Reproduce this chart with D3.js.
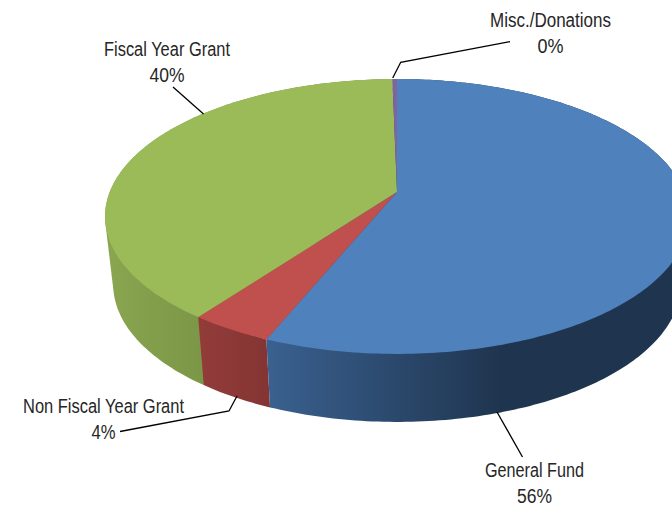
<!DOCTYPE html>
<html>
<head>
<meta charset="utf-8">
<script src="https://cdn.jsdelivr.net/npm/d3@7"></script>
<style>
	body { margin: 0; background: #fff; }
	svg { display: block; }
	text { font-family: "Liberation Sans", sans-serif; font-size: 20px; fill: #262626; }
</style>
</head>
<body>
<svg width="672" height="506"></svg>
<script>
// Chart values
var categories = ["General Fund", "Non Fiscal Year Grant", "Fiscal Year Grant", "Misc./Donations"]
var shares = [56.2, 3.9, 39.6, 0.3]
var percentLabels = ["56%", "4%", "40%", "0%"]

var topColors = ["#4f81bd", "#c0504d", "#9bbb59", "#8064a2"]
var wallLeft = ["#3a6190", "#933c3a", "#8aa650", "#64507f"]
var wallRight = ["#1f354f", "#843533", "#7c9747", "#64507f"]

var svg = d3.select("svg")

// Tilted disc: circle coordinates projected with a bit of perspective
var apex = {x: 397, y: 192}
var k = 0.178
var radiusX = 287.3
var radiusY = 133.1
var depth = 68
var shrink = 0.972

function project(angle) {
	var u = Math.sin(angle)
	var v = Math.cos(angle)
	var w = 1 + k * v
	return [apex.x + radiusX * u / w, apex.y - radiusY * v / w]
}

// Lower rim sits further from the viewer, so it is a little narrower
function projectBottom(angle) {
	var p = project(angle)
	return [apex.x + (p[0] - apex.x) * shrink, p[1] + depth]
}

function rim(slice, fn) {
	var n = Math.max(2, Math.ceil((slice.endAngle - slice.startAngle) * 60))
	return d3.range(n + 1).map(function(i) {
		return fn(slice.startAngle + (slice.endAngle - slice.startAngle) * i / n)
	})
}

var pie = d3.pie().sort(null)
var slices = pie(shares)
var line = d3.line()

// One horizontal gradient per side wall
var defs = svg.append("defs")
slices.forEach(function(s, i) {
	var pts = rim(s, project)
	var near = pts.filter(function(p) { return p[1] > apex.y })
	var left = d3.min(pts, function(p) { return p[0] })
	var right = i === 0 ? 500 : d3.max(near.length ? near : pts, function(p) { return p[0] })
	var grad = defs.append("linearGradient")
		.attr("id", "wall" + i)
		.attr("gradientUnits", "userSpaceOnUse")
		.attr("x1", left).attr("x2", right)
		.attr("y1", 0).attr("y2", 0)
	grad.append("stop").attr("offset", 0).attr("stop-color", wallLeft[i])
	grad.append("stop").attr("offset", 1).attr("stop-color", wallRight[i])
})

// Side walls first, the top face covers what is behind it
// Hull of both rims gives the straight silhouette at the far left
// Painted last slice first so the green hull does not cover the red wall
svg.append("g").selectAll("path")
	.data(slices.map(function(d, i) { return {slice: d, index: i} }).reverse())
	.enter().append("path")
	.attr("d", function(d) {
		return line(d3.polygonHull(rim(d.slice, project).concat(rim(d.slice, projectBottom)))) + "Z"
	})
	.attr("fill", function(d) { return "url(#wall" + d.index + ")" })

svg.append("g").selectAll("path")
	.data(slices)
	.enter().append("path")
	.attr("d", function(d) {
		return line([[apex.x, apex.y]].concat(rim(d, project))) + "Z"
	})
	.attr("fill", function(d, i) { return topColors[i] })

// Leader lines and labels
var leaderPaths = [
	[[497, 412], [522.5, 457]],
	[[237, 396], [229, 411], [120, 431.5]],
	[[203.5, 114], [173, 87]],
	[[392.7, 78], [400.7, 62.3], [510, 41.7]]
]
var labelSpots = [
	{x: 534.5, y: 477, nameWidth: 99, percentWidth: 35},
	{x: 103.5, y: 413, nameWidth: 161, percentWidth: 24},
	{x: 167, y: 56, nameWidth: 126, percentWidth: 35},
	{x: 550.5, y: 27, nameWidth: 121, percentWidth: 26}
]

svg.append("g").selectAll("path")
	.data(leaderPaths)
	.enter().append("path")
	.attr("d", line)
	.attr("fill", "none")
	.attr("stroke", "#000")
	.attr("stroke-width", 1.3)

// Narrow type: no condensed face installed, so squeeze to the measured width
var labels = svg.append("g")
labels.selectAll(".name")
	.data(categories)
	.enter().append("text")
	.attr("class", "name")
	.attr("text-anchor", "middle")
	.attr("x", function(d, i) { return labelSpots[i].x })
	.attr("y", function(d, i) { return labelSpots[i].y })
	.attr("textLength", function(d, i) { return labelSpots[i].nameWidth })
	.attr("lengthAdjust", "spacingAndGlyphs")
	.text(function(d) { return d })
labels.selectAll(".percent")
	.data(percentLabels)
	.enter().append("text")
	.attr("class", "percent")
	.attr("text-anchor", "middle")
	.attr("x", function(d, i) { return labelSpots[i].x })
	.attr("y", function(d, i) { return labelSpots[i].y + 26 })
	.attr("textLength", function(d, i) { return labelSpots[i].percentWidth })
	.attr("lengthAdjust", "spacingAndGlyphs")
	.text(function(d) { return d })
</script>
</body>
</html>
